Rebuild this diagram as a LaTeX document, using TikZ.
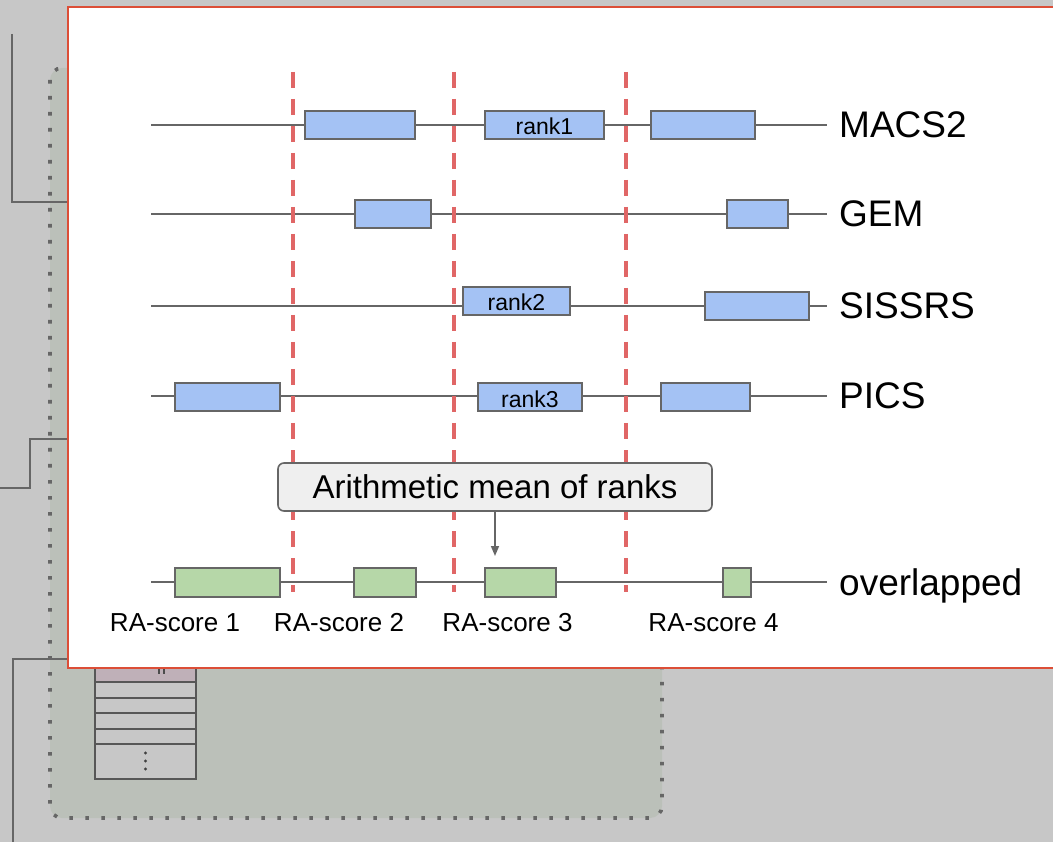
\documentclass[tikz,border=0pt]{standalone}
\usepackage{fontspec}
\setmainfont{Liberation Sans}
\usetikzlibrary{arrows.meta}
\definecolor{canvas}{HTML}{C7C7C7}
\definecolor{groupfill}{HTML}{BBC0B9}
\definecolor{linegray}{HTML}{666666}
\definecolor{framered}{HTML}{DC4E37}
\definecolor{sepred}{HTML}{E06666}
\definecolor{peakblue}{HTML}{A4C2F4}
\definecolor{peakgreen}{HTML}{B6D7A8}
\definecolor{notefill}{HTML}{EFEFEF}
\definecolor{rowpink}{HTML}{BFB0B8}
\tikzset{
  conn/.style={draw=linegray, line width=1.8pt},
  track/.style={draw=linegray, line width=1.6pt},
  sepline/.style={draw=sepred, line width=3.4pt, dash pattern=on 16pt off 11pt},
  blk/.style={draw=linegray, line width=1.6pt, fill=peakblue, minimum height=28pt,
    inner sep=0pt, text height=20pt, text depth=0pt, font=\fontsize{23}{26}\selectfont},
  gblk/.style={blk, fill=peakgreen, minimum height=29pt},
  tracklabel/.style={anchor=base west, inner xsep=12pt, inner ysep=0pt,
    font=\fontsize{37}{44}\selectfont},
  scorelabel/.style={anchor=base, inner sep=0pt, font=\fontsize{26}{30}\selectfont},
  note/.style={draw=linegray, line width=1.6pt, fill=notefill, rounded corners=6pt,
    minimum width=434pt, minimum height=48pt, inner sep=0pt,
    text height=22pt, text depth=0pt, font=\fontsize{33}{38}\selectfont},
  ptr/.style={draw=linegray, line width=1.6pt,
    -{Triangle[length=10pt,width=8pt]}, color=linegray},
  groupedge/.style={draw=linegray, line width=3.6pt, dash pattern=on 3.6pt off 12.4pt,
    rounded corners=12pt},
}
\begin{document}
\begin{tikzpicture}[x=1pt,y=-1pt]
\useasboundingbox (0,0) rectangle (1053,842);
\clip (0,0) rectangle (1053,842);
\fill[canvas] (0,0) rectangle (1053,842);

% dotted group region behind the panel
\fill[groupfill, rounded corners=12pt] (50,68) rectangle (662,818);

% connectors entering from the left margin
\coordinate (c1a) at (12,34);  \coordinate (c1b) at (100,202);
\draw[conn] (c1a) |- (c1b);
\coordinate (c2a) at (0,488);  \coordinate (c2b) at (100,439);
\draw[conn] (c2a) -- ++(30,0) |- (c2b);
\coordinate (c3a) at (13,850); \coordinate (c3b) at (100,659);
\draw[conn] (c3a) |- (c3b);

\draw[groupedge] (50,68) rectangle (662,818);

% record table under the panel
\fill[rowpink] (95,650) rectangle (196,682);
\fill[canvas] (95,682) rectangle (196,779);
\draw[draw=linegray!85!black, line width=2pt] (95,650) rectangle (196,779);
\foreach \yy in {682,698,713,729,744}
  \draw[draw=linegray!85!black, line width=2pt] (95,\yy) -- (196,\yy);
\foreach \yy in {753,761,769}
  \fill[black!75] (145.5,\yy) circle (1.6pt);
\draw[black!70, line width=1.2pt] (159,668) -- (159,674) (164,668) -- (164,674);

% white panel
\draw[fill=white, draw=framered, line width=2pt] (68,7) rectangle (1070,668);

% track labels
\node[tracklabel] (macs) at (827,138) {MACS2};
\node[tracklabel] (gem)  at (827,227) {GEM};
\node[tracklabel] (siss) at (827,319) {SISSRS};
\node[tracklabel] (pics) at (827,409) {PICS};
\node[tracklabel] (ovl)  at (827,595) {overlapped};

% track lines
\coordinate (t1) at (151,125);
\coordinate (t2) at (151,214);
\coordinate (t3) at (151,306);
\coordinate (t4) at (151,396);
\coordinate (t5) at (151,582);
\draw[track] (t1) -- (t1 -| macs.west);
\draw[track] (t2) -- (t2 -| gem.west);
\draw[track] (t3) -- (t3 -| siss.west);
\draw[track] (t4) -- (t4 -| pics.west);
\draw[track] (t5) -- (t5 -| ovl.west);

% region separators
\coordinate (d1t) at (293,72);  \coordinate (d1b) at (293,592);
\coordinate (d2t) at (454,72);  \coordinate (d2b) at (454,592);
\coordinate (d3t) at (626,72);  \coordinate (d3b) at (626,592);
\draw[sepline] (d1t) -- (d1b);
\draw[sepline] (d2t) -- (d2b);
\draw[sepline] (d3t) -- (d3b);

% MACS2 peaks
\node[blk, minimum width=110pt] (m1) at (360,125) {};
\node[blk, minimum width=119pt] (m2) at (544.5,125) {rank1};
\node[blk, minimum width=104pt] (m3) at (703,125) {};
% GEM peaks
\node[blk, minimum width=76pt] (g1) at (393,214) {};
\node[blk, minimum width=61pt] (g2) at (757.5,214) {};
% SISSRS peaks
\node[blk, minimum width=107pt] (s1) at (516.5,301) {rank2};
\node[blk, minimum width=104pt] (s2) at (757,306) {};
% PICS peaks
\node[blk, minimum width=105pt] (p1) at (227.5,397) {};
\node[blk, minimum width=104pt] (p2) at (530,397) {rank3};
\node[blk, minimum width=89pt]  (p3) at (705.5,397) {};
% overlapped regions
\node[gblk, minimum width=105pt] (o1) at (227.5,582.5) {};
\node[gblk, minimum width=62pt]  (o2) at (385,582.5) {};
\node[gblk, minimum width=71pt]  (o3) at (520.5,582.5) {};
\node[gblk, minimum width=28pt]  (o4) at (737,582.5) {};

% scores
\node[scorelabel] (r1) at (175,631) {RA-score 1};
\node[scorelabel] (r2) at (339,631) {RA-score 2};
\node[scorelabel] (r3) at (507.5,631) {RA-score 3};
\node[scorelabel] (r4) at (713.5,631) {RA-score 4};

% note and pointer
\node[note] (mean) at (495,487) {Arithmetic mean of ranks};
\coordinate (tip) at (495,556);
\draw[ptr] (mean.south) -- (tip);
\end{tikzpicture}
\end{document}
